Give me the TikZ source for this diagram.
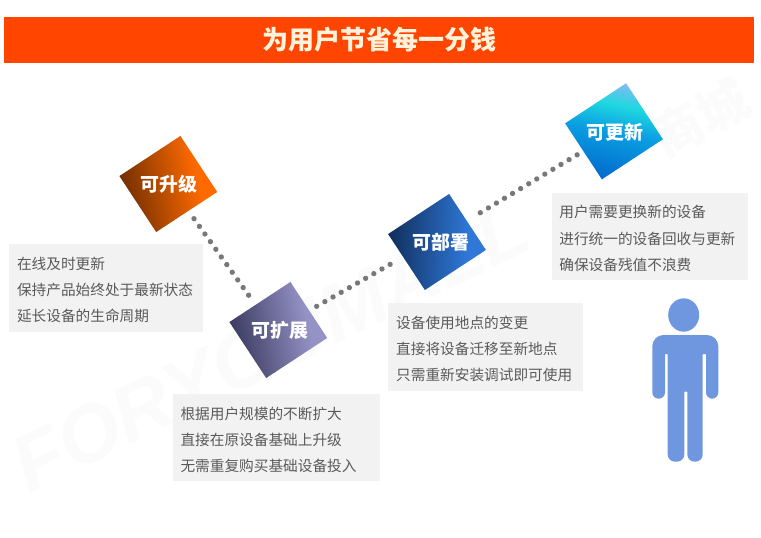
\documentclass[tikz,border=0pt]{standalone}
\usepackage{fontspec}
\setmainfont{Noto Sans CJK SC}
\newfontfamily\wmfont{Liberation Sans}
\usetikzlibrary{calc,decorations.markings}
\definecolor{barcol}{HTML}{FF4500}
\definecolor{titlecol}{HTML}{FFF3DC}
\definecolor{boxcol}{HTML}{F2F2F2}
\definecolor{txtcol}{HTML}{5A5A5A}
\definecolor{dotcol}{HTML}{787878}
\definecolor{mancol}{HTML}{6F97E0}
\definecolor{wmcol}{HTML}{FBFBFB}
\definecolor{oa}{HTML}{6B2C00}
\definecolor{ob}{HTML}{FF6A00}
\definecolor{pa}{HTML}{37365A}
\definecolor{pb}{HTML}{9592C6}
\definecolor{ba}{HTML}{11305F}
\definecolor{bb}{HTML}{2F78D8}
\definecolor{ca}{HTML}{0060C8}
\definecolor{cb}{HTML}{0A9FE2}
\definecolor{cc}{HTML}{1FD8E0}
\definecolor{cd}{HTML}{9AB4F4}
\pgfdeclareverticalshading{shorange}{100bp}{color(0bp)=(oa); color(24bp)=(oa); color(66bp)=(ob); color(100bp)=(ob)}
\pgfdeclareverticalshading{shpurple}{100bp}{color(0bp)=(pa); color(24bp)=(pa); color(66bp)=(pb); color(100bp)=(pb)}
\pgfdeclareverticalshading{shblue}{100bp}{color(0bp)=(ba); color(26bp)=(ba); color(66bp)=(bb); color(100bp)=(bb)}
\pgfdeclareverticalshading{shcyan}{100bp}{color(0bp)=(ca); color(20bp)=(ca); color(50bp)=(cb); color(64bp)=(cc); color(78bp)=(cd); color(100bp)=(cd)}
\tikzset{
  tile/.style={rectangle,rotate=33.3,minimum width=54.75pt,minimum height=50.25pt,inner sep=0pt},
  tilelabel/.style={text=white,font=\fontsize{14.2pt}{16pt}\selectfont\bfseries,inner sep=0pt},
  infobox/.style={rectangle,fill=boxcol,text=txtcol,inner xsep=0pt,inner ysep=0pt,align=left,
     font=\fontsize{11pt}{19.7pt}\selectfont,execute at begin node={\rule{0pt}{12.5pt}}},
  dotline/.style={decoration={markings,mark=between positions 0 and 1 step 7.05pt with {\fill[dotcol] (0pt,0pt) circle (2pt);}},decorate},
  wm/.style={text=wmcol,inner sep=0pt}
}
\begin{document}
\begin{tikzpicture}[x=0.75pt,y=-0.75pt]
\useasboundingbox (0,0) rectangle (761,537);
\fill[white] (0,0) rectangle (761,537);
% watermark
\node[wm,rotate=26,font=\wmfont\fontsize{60pt}{60pt}\selectfont\bfseries\itshape] (wmark) at (270,346) {FORYOUMALL};
\node[wm,rotate=28,font=\fontsize{38pt}{38pt}\selectfont\bfseries] (wmcity) at (700,118) {商城};
% title
\node[rectangle,fill=barcol,minimum width=562.5pt,minimum height=34.5pt,inner sep=0pt,
  text=titlecol,font=\fontsize{19.5pt}{22pt}\selectfont\bfseries] (title) at (379,40) {为用户节省每一分钱};
% info boxes
\node[infobox,minimum width=145.5pt,minimum height=66pt,text width=133.5pt] (b1) at (106,288) {在线及时更新\\保持产品始终处于最新状态\\延长设备的生命周期};
\node[infobox,minimum width=155.25pt,minimum height=65.5pt,text width=144pt] (b2) at (276.5,437.7) {根据用户规模的不断扩大\\直接在原设备基础上升级\\无需重复购买基础设备投入};
\node[infobox,minimum width=146.25pt,minimum height=65.5pt,text width=134pt] (b3) at (485.5,347) {设备使用地点的变更\\直接将设备迁移至新地点\\只需重新安装调试即可使用};
\node[infobox,minimum width=147.5pt,minimum height=65.5pt,text width=136pt] (b4) at (650,236.3) {用户需要更换新的设备\\进行统一的设备回收与更新\\确保设备残值不浪费};
% tiles
\node[tile,shading=shorange,shading angle=-78] (n1) at (168.3,184) {};
\node[tile,shading=shpurple,shading angle=-78] (n2) at (278.3,330) {};
\node[tile,shading=shblue,shading angle=-93] (n3) at (437,242) {};
\node[tile,shading=shcyan,shading angle=-12] (n4) at (614,131.3) {};
\node[tilelabel] (l1) at ($(n1)+(1,0)$) {可升级};
\node[tilelabel] (l2) at ($(n2)+(2,0.7)$) {可扩展};
\node[tilelabel] (l3) at ($(n3)+(4,0.7)$) {可部署};
\node[tilelabel] (l4) at ($(n4)+(1,0.7)$) {可更新};
% dotted connectors
\draw[dotline] ($(n1)+(25.7,34.7)$) -- ($(n2)+(-29.3,-34.3)$);
\draw[dotline] ($(n2)+(38.4,-23.7)$) -- ($(n3)+(-46.3,22)$);
\draw[dotline] ($(n3)+(43.3,-29.3)$) -- ($(n4)+(-36,23)$);
% person
\fill[mancol] (683.7,315) ellipse [x radius=15.5,y radius=16.7];
\fill[mancol] (685,335) [rounded corners=8.5pt] -- (718.3,335) [rounded corners=4.7pt] -- (718.3,398.7) -- (706,398.7) [rounded corners=0.3pt] -- (706,354) -- (702.7,354) [rounded corners=5.5pt] -- (702.7,461.7) -- (687.3,461.7) [rounded corners=0.3pt] -- (687.3,391.7) -- (684.3,391.7) [rounded corners=5.5pt] -- (684.3,461.7) -- (667.7,461.7) [rounded corners=0.3pt] -- (667.7,354) -- (665,354) [rounded corners=4.7pt] -- (665,398.7) -- (652.3,398.7) [rounded corners=8.5pt] -- (652.3,335) -- cycle;
\end{tikzpicture}
\end{document}
